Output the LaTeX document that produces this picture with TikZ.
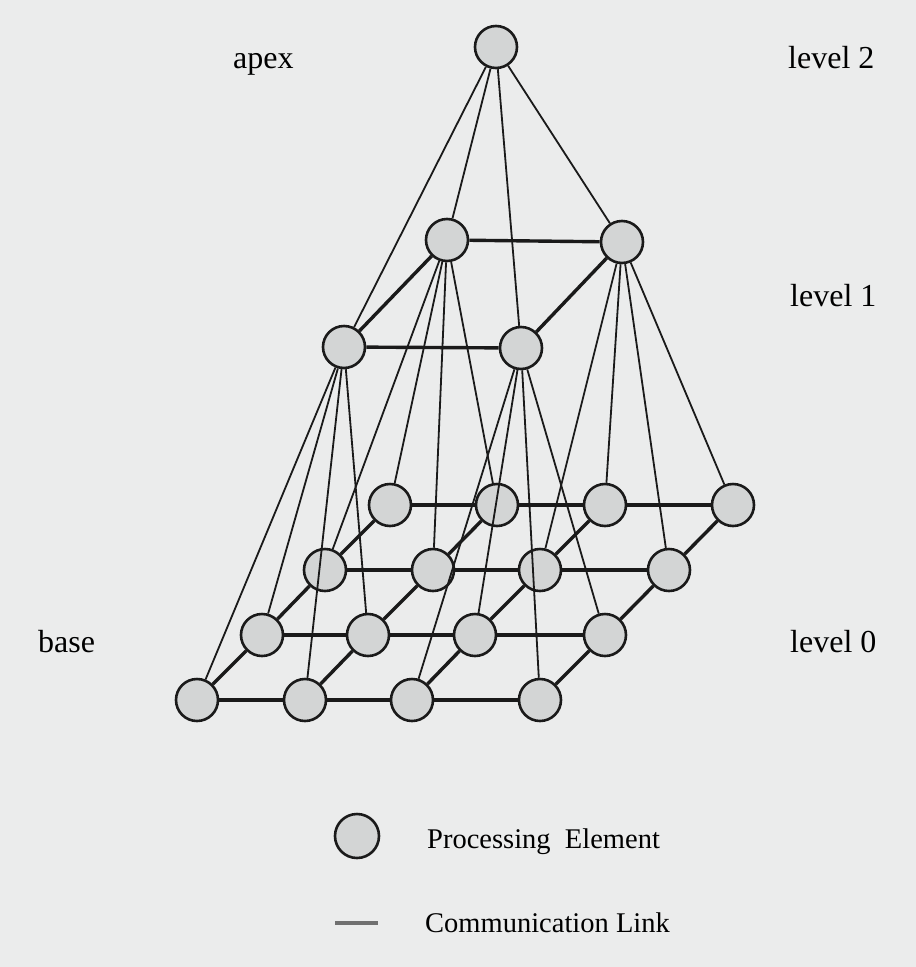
\documentclass[tikz,border=0pt]{standalone}
\usepackage{fontspec}
\setmainfont{Liberation Serif}
\definecolor{bg}{HTML}{EBECEC}
\definecolor{pefill}{HTML}{D3D5D5}
\definecolor{peline}{HTML}{1A1A1A}
\definecolor{lgline}{HTML}{707070}
\tikzset{
  pe/.style={circle, draw=peline, fill=pefill, line width=2.6pt, minimum size=42pt, inner sep=0pt},
  gridlink/.style={draw=peline, line width=3.4pt},
  thinlink/.style={draw=peline, line width=1.8pt},
  lbl/.style={anchor=base west, inner sep=0pt, font=\fontsize{32}{38}\selectfont},
  lgtxt/.style={anchor=base west, inner sep=0pt, font=\fontsize{28.5}{34}\selectfont},
  lgstroke/.style={draw=lgline, line width=4pt}
}
\begin{document}
\begin{tikzpicture}[x=1pt,y=-1pt]
\fill[bg] (0,0) rectangle (916,967);
\useasboundingbox (0,0) rectangle (916,967);

% apex and level 1
\node[pe] (ap) at (496,47) {};
\node[pe] (u00) at (447,240) {};
\node[pe] (u01) at (622,242) {};
\node[pe] (u10) at (344,347) {};
\node[pe] (u11) at (521,348) {};

% level 0 (base) grid
\node[pe] (b00) at (390,505) {};
\node[pe] (b01) at (497,505) {};
\node[pe] (b02) at (605,505) {};
\node[pe] (b03) at (733,505) {};
\node[pe] (b10) at (325,570) {};
\node[pe] (b11) at (433,570) {};
\node[pe] (b12) at (540,570) {};
\node[pe] (b13) at (669,570) {};
\node[pe] (b20) at (262,635) {};
\node[pe] (b21) at (368,635) {};
\node[pe] (b22) at (475,635) {};
\node[pe] (b23) at (605,635) {};
\node[pe] (b30) at (197,700) {};
\node[pe] (b31) at (305,700) {};
\node[pe] (b32) at (412,700) {};
\node[pe] (b33) at (540,700) {};

% base grid links
\foreach \r in {0,1,2,3} {
  \draw[gridlink] (b\r0) -- (b\r1);
  \draw[gridlink] (b\r1) -- (b\r2);
  \draw[gridlink] (b\r2) -- (b\r3);
}
\foreach \c in {0,1,2,3} {
  \draw[gridlink] (b0\c) -- (b1\c);
  \draw[gridlink] (b1\c) -- (b2\c);
  \draw[gridlink] (b2\c) -- (b3\c);
}

% level 1 links
\draw[gridlink] (u00) -- (u01);
\draw[gridlink] (u10) -- (u11);
\draw[gridlink] (u00) -- (u10);
\draw[gridlink] (u01) -- (u11);

% apex to level 1
\foreach \u in {u00,u01,u10,u11} \draw[thinlink] (ap) -- (\u);

% level 1 to base
\foreach \u/\b in {u00/b00,u00/b01,u00/b10,u00/b11,
                   u01/b02,u01/b03,u01/b12,u01/b13,
                   u10/b20,u10/b21,u10/b30,u10/b31,
                   u11/b22,u11/b23,u11/b32,u11/b33}
  \draw[thinlink] (\u) -- (\b);

% labels
\node[lbl] (tapex) at (233,68) {apex};
\node[lbl] (tl2) at (788,68) {level 2};
\node[lbl] (tl1) at (790,306) {level 1};
\node[lbl] (tl0) at (790,652) {level 0};
\node[lbl] (tbase) at (38,652) {base};

% legend
\node[pe, minimum size=44pt] (lgpe) at (357,836) {};
\node[lgtxt] (lgpet) at (427,848) {Processing\hspace{0.25em} Element};
\coordinate (lga) at (335,923);
\coordinate (lgb) at (378,923);
\draw[lgstroke] (lga) -- (lgb);
\node[lgtxt] (lglt) at (425,932) {Communication Link};
\end{tikzpicture}
\end{document}
